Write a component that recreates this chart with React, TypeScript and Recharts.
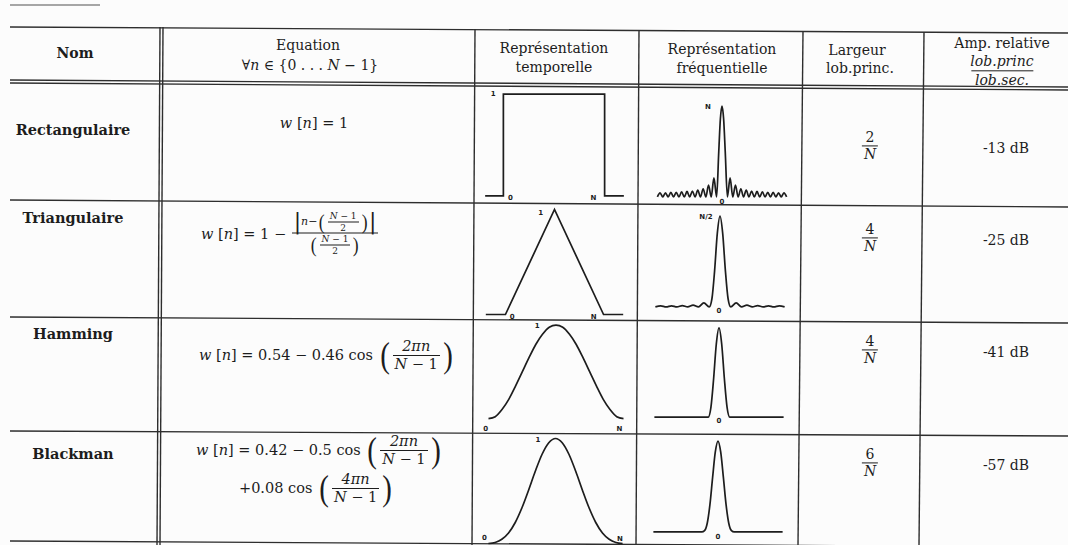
import React from 'react'
import { LineChart, Line, XAxis, YAxis, ReferenceDot } from 'recharts'

type Pt = { x: number; y: number }
type Tag = { x: number; y: number; text: string }

const INK = '#1d1d1d'
const RULE = '#2e2e2e'

// table text
const windowNames = ['Rectangulaire', 'Triangulaire', 'Hamming', 'Blackman']
const lobeWidthNum = ['2', '4', '4', '6']
const sideLobeLevel = ['-13 dB', '-25 dB', '-41 dB', '-57 dB']

// temporal shapes (x = n/N, y = w[n])
const rectTime: Pt[] = [
  { x: -0.18, y: 0 }, { x: 0, y: 0 }, { x: 0, y: 1 }, { x: 1, y: 1 }, { x: 1, y: 0 }, { x: 1.19, y: 0 },
]
const triTime: Pt[] = [
  { x: -0.2, y: 0 }, { x: 0, y: 0 }, { x: 0.5, y: 1 }, { x: 1, y: 0 }, { x: 1.2, y: 0 },
]
const hammingTime: Pt[] = [
  { x: 0, y: 0.08 }, { x: 0.05, y: 0.1 }, { x: 0.1, y: 0.17 }, { x: 0.15, y: 0.27 }, { x: 0.2, y: 0.4 },
  { x: 0.25, y: 0.54 }, { x: 0.3, y: 0.68 }, { x: 0.35, y: 0.81 }, { x: 0.4, y: 0.91 }, { x: 0.45, y: 0.98 },
  { x: 0.5, y: 1 }, { x: 0.55, y: 0.98 }, { x: 0.6, y: 0.91 }, { x: 0.65, y: 0.81 }, { x: 0.7, y: 0.68 },
  { x: 0.75, y: 0.54 }, { x: 0.8, y: 0.4 }, { x: 0.85, y: 0.27 }, { x: 0.9, y: 0.17 }, { x: 0.95, y: 0.1 },
  { x: 1, y: 0.08 },
]
const blackmanTime: Pt[] = [
  { x: 0, y: 0 }, { x: 0.05, y: 0.01 }, { x: 0.1, y: 0.04 }, { x: 0.15, y: 0.1 }, { x: 0.2, y: 0.2 },
  { x: 0.25, y: 0.34 }, { x: 0.3, y: 0.51 }, { x: 0.35, y: 0.69 }, { x: 0.4, y: 0.85 }, { x: 0.45, y: 0.96 },
  { x: 0.5, y: 1 }, { x: 0.55, y: 0.96 }, { x: 0.6, y: 0.85 }, { x: 0.65, y: 0.69 }, { x: 0.7, y: 0.51 },
  { x: 0.75, y: 0.34 }, { x: 0.8, y: 0.2 }, { x: 0.85, y: 0.1 }, { x: 0.9, y: 0.04 }, { x: 0.95, y: 0.01 },
  { x: 1, y: 0 },
]

// frequency shapes (x in bins, y = |W| / W(0))
const rectFreq: Pt[] = [
  { x: -12, y: 0 }, { x: -11.5, y: 0.045 }, { x: -11, y: 0 }, { x: -10.5, y: 0.045 }, { x: -10, y: 0 },
  { x: -9.5, y: 0.05 }, { x: -9, y: 0 }, { x: -8.5, y: 0.05 }, { x: -8, y: 0 }, { x: -7.5, y: 0.055 },
  { x: -7, y: 0 }, { x: -6.5, y: 0.06 }, { x: -6, y: 0 }, { x: -5.5, y: 0.065 }, { x: -5, y: 0 },
  { x: -4.5, y: 0.075 }, { x: -4, y: 0 }, { x: -3.5, y: 0.09 }, { x: -3, y: 0 }, { x: -2.5, y: 0.13 },
  { x: -2, y: 0 }, { x: -1.5, y: 0.21 }, { x: -1, y: 0 }, { x: -0.6, y: 0.5 }, { x: -0.3, y: 0.86 },
  { x: 0, y: 1 },
  { x: 0.3, y: 0.86 }, { x: 0.6, y: 0.5 }, { x: 1, y: 0 }, { x: 1.5, y: 0.21 }, { x: 2, y: 0 },
  { x: 2.5, y: 0.13 }, { x: 3, y: 0 }, { x: 3.5, y: 0.09 }, { x: 4, y: 0 }, { x: 4.5, y: 0.075 },
  { x: 5, y: 0 }, { x: 5.5, y: 0.065 }, { x: 6, y: 0 }, { x: 6.5, y: 0.06 }, { x: 7, y: 0 },
  { x: 7.5, y: 0.055 }, { x: 8, y: 0 }, { x: 8.5, y: 0.05 }, { x: 9, y: 0 }, { x: 9.5, y: 0.05 },
  { x: 10, y: 0 }, { x: 10.5, y: 0.045 }, { x: 11, y: 0 }, { x: 11.5, y: 0.045 }, { x: 12, y: 0 },
]
const triFreq: Pt[] = [
  { x: -12, y: 0 }, { x: -11, y: 0.012 }, { x: -10, y: 0 }, { x: -9, y: 0.012 }, { x: -8, y: 0 },
  { x: -7, y: 0.015 }, { x: -6, y: 0 }, { x: -5, y: 0.02 }, { x: -4, y: 0 }, { x: -3, y: 0.045 },
  { x: -2, y: 0 }, { x: -1.5, y: 0.09 }, { x: -1, y: 0.4 }, { x: -0.5, y: 0.81 }, { x: 0, y: 1 },
  { x: 0.5, y: 0.81 }, { x: 1, y: 0.4 }, { x: 1.5, y: 0.09 }, { x: 2, y: 0 }, { x: 3, y: 0.045 },
  { x: 4, y: 0 }, { x: 5, y: 0.02 }, { x: 6, y: 0 }, { x: 7, y: 0.015 }, { x: 8, y: 0 },
  { x: 9, y: 0.012 }, { x: 10, y: 0 }, { x: 11, y: 0.012 }, { x: 12, y: 0 },
]
const hammingFreq: Pt[] = [
  { x: -12, y: 0 }, { x: -2, y: 0 }, { x: -1.5, y: 0.11 }, { x: -1, y: 0.43 }, { x: -0.5, y: 0.82 },
  { x: 0, y: 1 }, { x: 0.5, y: 0.82 }, { x: 1, y: 0.43 }, { x: 1.5, y: 0.11 }, { x: 2, y: 0 }, { x: 12, y: 0 },
]
const blackmanFreq: Pt[] = [
  { x: -12, y: 0 }, { x: -3, y: 0 }, { x: -2.5, y: 0.014 }, { x: -2, y: 0.095 }, { x: -1.5, y: 0.3 },
  { x: -1, y: 0.6 }, { x: -0.5, y: 0.88 }, { x: 0, y: 1 }, { x: 0.5, y: 0.88 }, { x: 1, y: 0.6 },
  { x: 1.5, y: 0.3 }, { x: 2, y: 0.095 }, { x: 2.5, y: 0.014 }, { x: 3, y: 0 }, { x: 12, y: 0 },
]

// little axis marks written on the plots
const rectTimeTags: Tag[] = [
  { x: -0.1, y: 1.01, text: '1' }, { x: 0.07, y: -0.02, text: '0' }, { x: 0.89, y: -0.02, text: 'N' },
]
const rectFreqTags: Tag[] = [{ x: -2.6, y: 1, text: 'N' }, { x: 0, y: -0.055, text: '0' }]
const triTimeTags: Tag[] = [
  { x: 0.36, y: 0.97, text: '1' }, { x: 0.07, y: -0.02, text: '0' }, { x: 0.9, y: -0.02, text: 'N' },
]
const triFreqTags: Tag[] = [{ x: -2.6, y: 1, text: 'N/2' }, { x: -0.2, y: -0.04, text: '0' }]
const hammingTimeTags: Tag[] = [
  { x: 0.36, y: 1, text: '1' }, { x: -0.02, y: -0.02, text: '0' }, { x: 0.97, y: -0.02, text: 'N' },
]
const hammingFreqTags: Tag[] = [{ x: 0, y: -0.035, text: '0' }]
const blackmanTimeTags: Tag[] = [
  { x: 0.37, y: 0.99, text: '1' }, { x: -0.03, y: 0.06, text: '0' }, { x: 0.98, y: 0.05, text: 'N' },
]
const blackmanFreqTags: Tag[] = [{ x: 0, y: -0.055, text: '0' }]

function Mini(props: {
  data: Pt[]
  tags: Tag[]
  box: [number, number, number, number]
  xDomain: [number, number]
  curve: 'linear' | 'monotone'
}) {
  const { data, tags, box, xDomain, curve } = props
  return (
    <div style={{ position: 'absolute', left: box[0], top: box[1] }}>
      <LineChart width={box[2]} height={box[3]} data={data} margin={{ top: 0, right: 0, bottom: 0, left: 0 }}>
        <XAxis type="number" dataKey="x" domain={xDomain} hide />
        <YAxis type="number" domain={[-0.1, 1.1]} hide />
        <Line dataKey="y" type={curve} stroke={INK} strokeWidth={1.7} dot={false} isAnimationActive={false} />
        {tags.map((t, i) => (
          <ReferenceDot
            key={i}
            x={t.x}
            y={t.y}
            r={0}
            fill="none"
            stroke="none"
            label={{ value: t.text, position: 'center', fontSize: 7, fill: INK, fontFamily: 'DejaVu Sans', fontWeight: 700 }}
          />
        ))}
      </LineChart>
    </div>
  )
}

function Txt(props: { x: number; y: number; children: React.ReactNode; style?: React.CSSProperties }) {
  return (
    <div
      style={{
        position: 'absolute',
        left: props.x,
        top: props.y,
        transform: 'translate(-50%, -50%)',
        whiteSpace: 'nowrap',
        ...props.style,
      }}
    >
      {props.children}
    </div>
  )
}

function Frac(props: { num: React.ReactNode; den: React.ReactNode; size?: string | number }) {
  return (
    <span
      style={{
        display: 'inline-flex',
        flexDirection: 'column',
        alignItems: 'center',
        verticalAlign: 'middle',
        fontSize: props.size ?? '1em',
        lineHeight: 1.15,
        margin: '0 1px',
      }}
    >
      <span style={{ padding: '0 2px' }}>{props.num}</span>
      <span style={{ borderTop: `1px solid ${INK}`, alignSelf: 'stretch', textAlign: 'center', padding: '0 2px' }}>
        {props.den}
      </span>
    </span>
  )
}

function Paren(props: { ch: string; size: number }) {
  return (
    <span
      style={{
        display: 'inline-block',
        fontFamily: 'Liberation Serif',
        fontSize: props.size,
        lineHeight: 1,
        transform: 'scaleX(0.8)',
        margin: '0 1px',
      }}
    >
      {props.ch}
    </span>
  )
}

const Nm = () => (
  <>
    <i>N</i> − 1
  </>
)

const Eq = (props: { x: number; y: number; children: React.ReactNode }) => (
  <div
    style={{
      position: 'absolute',
      left: props.x,
      top: props.y,
      transform: 'translateY(-50%)',
      display: 'flex',
      alignItems: 'center',
      whiteSpace: 'nowrap',
      fontSize: 14.5,
    }}
  >
    {props.children}
  </div>
)

const hLines = [
  [10, 27, 1068, 33],
  [10, 80, 1068, 87],
  [10, 83, 1068, 90],
  [10, 200, 1068, 207],
  [10, 317, 1068, 323],
  [10, 431, 1068, 436],
  [10, 541, 1068, 547],
]
const vLines = [
  [160, 27, 157, 545],
  [163, 27, 160, 545],
  [475, 29, 472, 545],
  [639, 30, 636, 545],
  [803, 31, 798, 545],
  [924, 32, 919, 545],
]

export default function App() {
  const rowY = [129, 217, 333, 453]
  const fracY = [146, 238, 350, 463]
  const dbY = [148, 240, 352, 465]
  return (
    <div
      style={{
        position: 'absolute',
        left: 0,
        top: 0,
        width: 1068,
        height: 545,
        overflow: 'hidden',
        background: '#fcfcfc',
        fontFamily: "'DejaVu Serif', serif",
        fontSize: 14,
        color: INK,
      }}
    >
      <svg width={1068} height={545} style={{ position: 'absolute', left: 0, top: 0 }}>
        <line x1={10} y1={5} x2={100} y2={5} stroke="#8a8a8a" strokeWidth={1.5} />
        {hLines.map((l, i) => (
          <line key={'h' + i} x1={l[0]} y1={l[1]} x2={l[2]} y2={l[3]} stroke={RULE} strokeWidth={1.4} />
        ))}
        {vLines.map((l, i) => (
          <line key={'v' + i} x1={l[0]} y1={l[1]} x2={l[2]} y2={l[3]} stroke={RULE} strokeWidth={1.4} />
        ))}
      </svg>

      {/* header */}
      <Txt x={75} y={53} style={{ fontWeight: 700 }}>Nom</Txt>
      <Txt x={308} y={45}>Equation</Txt>
      <Txt x={310} y={65}>
        ∀<i>n</i> ∈ {'{'}0 . . . <i>N</i> − 1{'}'}
      </Txt>
      <Txt x={554} y={48}>Représentation</Txt>
      <Txt x={554} y={67}>temporelle</Txt>
      <Txt x={722} y={49}>Représentation</Txt>
      <Txt x={722} y={68}>fréquentielle</Txt>
      <Txt x={857} y={50}>Largeur</Txt>
      <Txt x={860} y={68}>lob.princ.</Txt>
      <Txt x={1002} y={43}>Amp. relative</Txt>
      <Txt x={1002} y={71}>
        <span style={{ display: 'inline-flex', flexDirection: 'column', alignItems: 'center', lineHeight: 1.3 }}>
          <i>lob.princ</i>
          <i style={{ borderTop: `1px solid ${INK}`, padding: '0 4px' }}>lob.sec.</i>
        </span>
      </Txt>

      {/* names, lobe widths, levels */}
      {windowNames.map((n, i) => (
        <Txt key={n} x={73} y={rowY[i]} style={{ fontWeight: 700, fontSize: 14.5 }}>
          {n}
        </Txt>
      ))}
      {lobeWidthNum.map((v, i) => (
        <Txt key={'w' + i} x={870} y={fracY[i]}>
          <Frac num={v} den={<i>N</i>} />
        </Txt>
      ))}
      {sideLobeLevel.map((v, i) => (
        <Txt key={'d' + i} x={1006} y={dbY[i]}>
          {v}
        </Txt>
      ))}

      {/* equations */}
      <Txt x={314} y={123} style={{ fontSize: 14.5 }}>
        <i>w</i> [<i>n</i>] = 1
      </Txt>
      <Eq x={201} y={233}>
        <span>
          <i>w</i> [<i>n</i>] = 1 −&nbsp;
        </span>
        <Frac
          size={11}
          num={
            <span style={{ display: 'inline-flex', alignItems: 'center' }}>
              <span style={{ fontSize: 22, lineHeight: 1 }}>|</span>
              <i>n</i>−<Paren ch="(" size={22} />
              <Frac size={9} num={<Nm />} den="2" />
              <Paren ch=")" size={22} />
              <span style={{ fontSize: 22, lineHeight: 1 }}>|</span>
            </span>
          }
          den={
            <span style={{ display: 'inline-flex', alignItems: 'center' }}>
              <Paren ch="(" size={22} />
              <Frac size={9} num={<Nm />} den="2" />
              <Paren ch=")" size={22} />
            </span>
          }
        />
      </Eq>
      <Eq x={199} y={355}>
        <span>
          <i>w</i> [<i>n</i>] = 0.54 − 0.46 cos&nbsp;
        </span>
        <Paren ch="(" size={36} />
        <Frac num={<i>2πn</i>} den={<Nm />} />
        <Paren ch=")" size={36} />
      </Eq>
      <Eq x={196} y={450}>
        <span>
          <i>w</i> [<i>n</i>] = 0.42 − 0.5 cos&nbsp;
        </span>
        <Paren ch="(" size={36} />
        <Frac num={<i>2πn</i>} den={<Nm />} />
        <Paren ch=")" size={36} />
      </Eq>
      <Eq x={239} y={488}>
        <span>+0.08 cos&nbsp;</span>
        <Paren ch="(" size={36} />
        <Frac num={<i>4πn</i>} den={<Nm />} />
        <Paren ch=")" size={36} />
      </Eq>

      {/* plots */}
      <Mini data={rectTime} tags={rectTimeTags} box={[473, 84, 162, 122]} xDomain={[-0.3, 1.3]} curve="linear" />
      <Mini data={rectFreq} tags={rectFreqTags} box={[652, 97, 140, 109]} xDomain={[-13, 13]} curve="monotone" />
      <Mini data={triTime} tags={triTimeTags} box={[476, 199, 157, 126]} xDomain={[-0.3, 1.3]} curve="linear" />
      <Mini data={triFreq} tags={triFreqTags} box={[650, 207, 140, 109]} xDomain={[-13, 13]} curve="monotone" />
      <Mini data={hammingTime} tags={hammingTimeTags} box={[475, 315, 162, 122]} xDomain={[-0.1, 1.1]} curve="monotone" />
      <Mini data={hammingFreq} tags={hammingFreqTags} box={[649, 319, 140, 107]} xDomain={[-13, 13]} curve="monotone" />
      <Mini data={blackmanTime} tags={blackmanTimeTags} box={[475, 428, 161, 126]} xDomain={[-0.1, 1.1]} curve="monotone" />
      <Mini data={blackmanFreq} tags={blackmanFreqTags} box={[648, 432, 140, 109]} xDomain={[-13, 13]} curve="monotone" />
    </div>
  )
}
